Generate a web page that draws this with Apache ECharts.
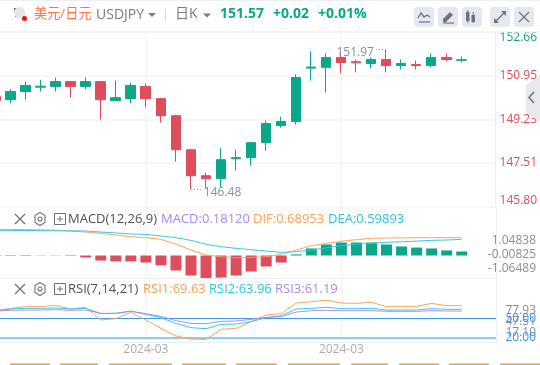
<!DOCTYPE html>
<html>
<head>
<meta charset="utf-8">
<style>html,body{margin:0;padding:0;background:#fff}#c{width:540px;height:365px}</style>
<script src="https://cdn.jsdelivr.net/npm/echarts@6/dist/echarts.min.js"></script>
</head>
<body>
<div id="c"></div>
<script>
const dates = ['2024-02-20','2024-02-21','2024-02-22','2024-02-23','2024-02-26','2024-02-27','2024-02-28','2024-02-29','2024-03-01','2024-03-04','2024-03-05','2024-03-06','2024-03-07','2024-03-08','2024-03-11','2024-03-12','2024-03-13','2024-03-14','2024-03-15','2024-03-18','2024-03-19','2024-03-20','2024-03-21','2024-03-22','2024-03-25','2024-03-26','2024-03-27','2024-03-28','2024-03-29','2024-04-01','2024-04-02','2024-04-03'];
const opens = [150.12,150.00,150.32,150.49,150.52,150.71,150.52,150.71,149.96,150.04,150.52,150.04,149.37,148.03,147.01,146.89,147.68,147.72,148.31,148.98,149.14,151.24,151.27,151.66,151.49,151.42,151.58,151.34,151.38,151.34,151.66,151.55];
const closes = [149.96,150.32,150.56,150.53,150.71,150.52,150.71,150.00,150.08,150.56,150.04,149.37,148.03,147.01,146.89,147.64,147.72,148.31,149.06,149.14,150.87,151.28,151.66,151.46,151.45,151.58,151.34,151.42,151.34,151.66,151.58,151.57];
const lows = [149.90,149.86,150.00,150.32,150.32,150.08,150.40,149.22,149.96,149.86,149.70,149.10,147.56,146.48,146.50,146.57,147.21,147.40,147.99,148.90,149.02,150.75,150.28,151.03,151.07,151.23,151.07,151.19,151.19,151.27,151.50,151.46];
const highs = [150.20,150.42,150.71,150.78,150.87,150.71,150.87,150.71,150.75,150.67,150.63,150.08,149.41,148.07,147.13,148.11,148.03,148.35,149.18,149.33,150.99,151.90,151.82,151.90,151.58,151.66,151.97,151.58,151.54,151.82,151.82,151.70];
const macd = [0.02,0.02,0.02,0.01,-0.01,-0.02,-0.09,-0.23,-0.27,-0.27,-0.32,-0.45,-0.68,-0.91,-1.03,-1.00,-0.91,-0.73,-0.50,-0.32,0.05,0.32,0.50,0.59,0.59,0.59,0.50,0.41,0.36,0.32,0.23,0.1812];
const dif = [1.17,1.16,1.15,1.14,1.12,1.07,1.01,0.94,0.84,0.75,0.69,0.60,0.33,-0.01,-0.29,-0.39,-0.44,-0.42,-0.39,-0.25,-0.01,0.24,0.37,0.49,0.58,0.66,0.67,0.68,0.69,0.69,0.69,0.68953];
const dea = [1.11,1.10,1.10,1.09,1.08,1.08,1.07,1.01,0.96,0.90,0.88,0.79,0.69,0.54,0.32,0.18,0.09,0.01,-0.06,-0.14,-0.10,-0.01,0.12,0.24,0.32,0.37,0.43,0.46,0.50,0.54,0.56,0.59893];
const rsi1 = [61.3,65.4,68.0,68.0,70.0,64.4,66.9,47.4,49.4,59.2,47.4,34.5,22.6,18.0,17.1,33.0,34.5,44.8,55.1,57.2,73.6,75.7,77.93,73.6,73.1,74.7,68.0,68.5,68.5,73.1,69.5,69.63];
const rsi2 = [61.8,64.4,65.4,65.4,65.9,64.4,65.4,57.2,57.7,61.3,56.1,51.0,42.2,35.5,34.0,40.7,41.2,44.8,51.0,54.1,64.4,65.4,67.0,64.9,64.9,65.4,62.8,62.8,62.8,64.9,63.9,63.96];
const rsi3 = [61.3,62.3,62.8,62.8,63.3,62.3,62.8,57.7,57.7,60.8,57.2,53.0,46.3,42.2,41.7,45.3,45.8,48.4,51.5,52.5,59.7,61.8,62.3,61.8,61.8,61.8,60.8,60.8,60.8,61.8,61.3,61.19];
const priceTicks = [145.80,147.51,149.23,150.95,152.66];
const macdTicks = [-1.06489,-0.00825,1.04838];
const rsiOuterTicks = [17.10,77.93];
const rsiMidTicks = [47.51];
const rsiLevels = [20,50];
const xLabelIdx = [10,23];
const peakValue = 151.97, troughValue = 146.48;

const GREEN='#0aa78b', RED='#dd4d5b', ORANGE='#fba04f', CYAN='#2cc6e6', PURPLE='#a98be8', GRAY='#8a8e9b', SOFT='#f3f4f6';
const FONT='"Open Sans", "Noto Sans CJK SC", sans-serif';
const candles = opens.map((o,i)=>[i,o,closes[i],lows[i],highs[i]]);
const indexed = (arr)=>arr.map((v,i)=>[i,v]);
const XMIN=0.3, XMAX=33.28;
function xAxisFor(g, showLabel){
  return {type:'value',gridIndex:g,min:XMIN,max:XMAX,
    axisLine:{show:g>0,onZero:false,lineStyle:{color:'#eceef1'}},
    axisTick:{show:false,customValues:xLabelIdx},
    splitLine:{show:true,customValues:xLabelIdx,lineStyle:{color:SOFT,width:1.5}},
    axisLabel:{show:showLabel,customValues:xLabelIdx,color:'#a9adb8',fontSize:12,fontFamily:FONT,margin:2,formatter:(v)=>dates[v].slice(0,7)}};
}
function textEl(x,y,t,fill,size,weight,align){
  return {type:'text',x,y,silent:true,z:50,style:{text:t,fill,font:`${weight||'normal'} ${size}px ${FONT}`,textAlign:align||'left',textVerticalAlign:'middle'}};
}
function rectEl(x,y,w,h,fill,r){return {type:'rect',silent:true,z:40,shape:{x,y,width:w,height:h,r:r||0},style:{fill}};}
function lineEl(x1,y1,x2,y2,c,w){return {type:'line',silent:true,z:50,shape:{x1,y1,x2,y2},style:{stroke:c,lineWidth:w||1}};}
function triEl(x,y,c){return {type:'polygon',silent:true,z:50,shape:{points:[[x-4,y-2],[x+4,y-2],[x,y+2]]},style:{fill:c}};}
function polyEl(pts,fill){return {type:'polygon',silent:true,z:50,shape:{points:pts},style:{fill}};}
function panelIcons(y){
  return [
    lineEl(15,y-5,25,y+5,'#6e7280',1.2),lineEl(25,y-5,15,y+5,'#6e7280',1.2),
    {type:'polygon',silent:true,z:50,shape:{points:[[40,y-6.5],[45,y-3.5],[45,y+3.5],[40,y+6.5],[35,y+3.5],[35,y-3.5]]},style:{fill:'none',stroke:'#6e7280',lineWidth:1.1}},
    {type:'circle',silent:true,z:50,shape:{cx:40,cy:y,r:2},style:{fill:'none',stroke:'#6e7280',lineWidth:1.1}},
    {type:'rect',silent:true,z:50,shape:{x:54.5,y:y-5.5,width:11,height:11},style:{fill:'none',stroke:'#6e7280',lineWidth:1}},
    lineEl(57,y,63,y,'#6e7280',1),lineEl(60,y-3,60,y+3,'#6e7280',1)
  ];
}
const orangeStrip=[[10,50],[60,98],[109,172],[182,226],[236,277],[288,340],[351,388],[399,439],[449,489],[500,540]];
const headerBtns=[414,438,462,490,514];
const IC='#6f7380';
const graphics=[
  rectEl(0,0,540,1,'#eef0f4'),
  rectEl(0,31,540,1.5,'#f3f4f6'),
  {type:'circle',silent:true,z:50,shape:{cx:19.5,cy:12.5,r:5.5},style:{fill:'#e8e3ea'}},
  rectEl(14,8,6,4,'#5a5f92'),rectEl(15,13,10,1.2,'#d4606a'),rectEl(15,16,9,1.2,'#d4606a'),
  {type:'circle',silent:true,z:51,shape:{cx:24.5,cy:18.5,r:2.5},style:{fill:'#f50f0f'}},
  textEl(34,14,'美元/日元','#ff7446',13.2),
  textEl(96,15.5,'USDJPY','#777b8a',14),
  triEl(152,15,'#777b8a'),
  lineEl(165.5,9,165.5,21,'#d6d8df',1),
  textEl(175,14,'日K','#777b8a',14),
  triEl(207,15.5,'#777b8a'),
  textEl(220,14.5,'151.57',GREEN,14,'bold'),
  textEl(273,14.5,'+0.02',GREEN,14,'bold'),
  textEl(318,14.5,'+0.01%',GREEN,14,'bold'),
  ...headerBtns.map(x=>rectEl(x,7,20,20,'#e6e8ef',4)),
  lineEl(419,22,430,22,IC,1.2),
  {type:'polyline',silent:true,z:50,shape:{points:[[418,18],[421,13],[424,17],[427,15],[430,17]]},style:{fill:'none',stroke:IC,lineWidth:1.3}},
  polyEl([[443,19],[450,12],[453,15],[446,22],[443,22]],IC),lineEl(443,23,454,23,IC,1.2),
  rectEl(466,12,3.5,9,IC),lineEl(467.8,10,467.8,23,IC,1),rectEl(471.5,15,3.5,7,IC),lineEl(473.2,12,473.2,23,IC,1),
  lineEl(495,22,505,12,IC,1.4),polyEl([[501,11],[506,11],[506,16]],IC),polyEl([[494,18],[494,23],[499,23]],IC),
  lineEl(519,12,529,22,IC,1.3),lineEl(529,12,519,22,IC,1.3),
  polyEl([[540,75],[526,85],[526,112],[540,122]],'#e8e9ef'),
  {type:'polyline',silent:true,z:51,shape:{points:[[534,92],[529,97.5],[534,103]]},style:{fill:'none',stroke:'#6f7380',lineWidth:1.6}},
  ...panelIcons(219),
  textEl(68,219,'MACD(12,26,9)','#4d505c',13),
  textEl(161,219,'MACD:0.18120',PURPLE,13),
  textEl(253,219,'DIF:0.68953',ORANGE,13),
  textEl(328,219,'DEA:0.59893',CYAN,13),
  ...panelIcons(289),
  textEl(68,289,'RSI(7,14,21)','#4d505c',13),
  textEl(143,289,'RSI1:69.63',ORANGE,13),
  textEl(209,289,'RSI2:63.96',CYAN,13),
  textEl(275,289,'RSI3:61.19',PURPLE,13),
  rectEl(498,342.5,42,7,'#ffffff'),
  ...orangeStrip.map(s=>rectEl(s[0],363.5,s[1]-s[0],1.5,'#d9a45f'))
];
function thinLine(name,data,color,x,y){
  return {name,type:'line',xAxisIndex:x,yAxisIndex:y,data:indexed(data),symbol:'none',smooth:false,silent:true,
    lineStyle:{color,width:1,opacity:0.95},z:5};
}
const rightLabel=(extra)=>Object.assign({margin:40,align:'right',fontSize:12,fontFamily:FONT,color:GRAY,showMinLabel:true,showMaxLabel:true},extra);
const peakPoint=(x,y,t,pos)=>({coord:[x,y],symbol:'circle',symbolSize:1,itemStyle:{color:'rgba(0,0,0,0)'},
  label:{show:true,position:pos,formatter:t,color:GRAY,fontSize:12,fontFamily:FONT,distance:2,offset:[0,3]}});
const option={
  animation:false,backgroundColor:'#fff',
  grid:[
    {left:0,width:496,top:32,height:174.5},
    {left:0,width:496,top:208,height:70},
    {left:0,width:496,top:278,height:64}
  ],
  xAxis:[xAxisFor(0,false),xAxisFor(1,false),xAxisFor(2,true)],
  yAxis:[
    {type:'value',gridIndex:0,position:'right',min:145.80,max:152.66,
      axisLine:{show:true,onZero:false,lineStyle:{color:'#eceef1'}},
      axisTick:{show:false,customValues:priceTicks},
      splitLine:{show:true,customValues:priceTicks,lineStyle:{color:SOFT,width:1.5}},
      axisLabel:{customValues:priceTicks,margin:4,fontSize:12,fontFamily:FONT,
        verticalAlignMinLabel:'bottom',verticalAlignMaxLabel:'top',
        color:(v)=>v>=152?GREEN:RED,formatter:(v)=>Number(v).toFixed(2)}},
    {type:'value',gridIndex:1,position:'right',min:-1.023,max:2.159,show:false,splitLine:{show:false}},
    {type:'value',gridIndex:1,position:'right',min:-1.591,max:2.373,show:false,splitLine:{show:false}},
    {type:'value',gridIndex:1,position:'right',min:-1.741,max:3.485,
      axisLine:{show:true,onZero:false,lineStyle:{color:'#eceef1'}},
      axisTick:{show:false,customValues:macdTicks},splitLine:{show:false},
      axisLabel:rightLabel({customValues:macdTicks,formatter:(v)=>Number(v).toFixed(5)})},
    {type:'value',gridIndex:2,position:'right',min:-9.9,max:171.2,
      axisLine:{show:true,onZero:false,lineStyle:{color:'#eceef1'}},
      axisTick:{show:false,customValues:rsiOuterTicks},splitLine:{show:false},
      axisLabel:rightLabel({customValues:rsiOuterTicks,formatter:(v)=>Number(v).toFixed(2)})},
    {type:'value',gridIndex:2,position:'right',min:-9.9,max:171.2,
      axisLine:{show:false},
      axisTick:{show:false,customValues:rsiMidTicks},splitLine:{show:false},
      axisLabel:rightLabel({customValues:rsiMidTicks,padding:[3,0,0,0],formatter:(v)=>Number(v).toFixed(2)})},
    {type:'value',gridIndex:2,position:'right',min:13.4,max:112.3,z:6,
      axisLine:{show:false},
      axisTick:{show:false,customValues:rsiLevels},splitLine:{show:false},
      axisLabel:rightLabel({customValues:rsiLevels,color:'#2f95ee',padding:[5,0,0,0],formatter:(v)=>Number(v).toFixed(2)})}
  ],
  graphic:graphics,
  series:[
    {name:'K',type:'candlestick',xAxisIndex:0,yAxisIndex:0,data:candles,barWidth:10,silent:true,
      encode:{x:0,y:[1,2,3,4]},
      markPoint:{silent:true,animation:false,data:[
        peakPoint(25.35,peakValue,'151.97','left'),
        peakPoint(13.7,troughValue,'146.48','right')]},
      itemStyle:{color:GREEN,color0:RED,borderColor:GREEN,borderColor0:RED,borderWidth:1},
      markLine:{silent:true,symbol:'none',animation:false,precision:4,label:{show:false},
        lineStyle:{color:GRAY,type:[1,2],width:1},
        data:[
          [{coord:[26,peakValue]},{coord:[25.35,peakValue]}],
          [{coord:[13,troughValue]},{coord:[13.7,troughValue]}]
        ]}},
    {name:'MACD',type:'bar',xAxisIndex:1,yAxisIndex:1,data:macd.map((v,i)=>({value:[i,v],itemStyle:{color:v>=0?GREEN:RED}})),barWidth:11,silent:true,z:2},
    thinLine('DIF',dif,ORANGE,1,2),
    thinLine('DEA',dea,CYAN,1,2),
    Object.assign(thinLine('RSI1',rsi1,ORANGE,2,6),{markLine:{silent:true,symbol:'none',animation:false,label:{show:false},data:[
      {yAxis:rsiLevels[1],lineStyle:{color:'#3a9be8',width:1,type:'solid'}},
      {yAxis:rsiLevels[0],lineStyle:{color:'#8fcdf6',width:2,type:'solid'}}]}}),
    thinLine('RSI2',rsi2,CYAN,2,6),
    thinLine('RSI3',rsi3,PURPLE,2,6)
  ]
};
echarts.init(document.getElementById('c'),null,{renderer:'canvas'}).setOption(option);
</script>
</body>
</html>
